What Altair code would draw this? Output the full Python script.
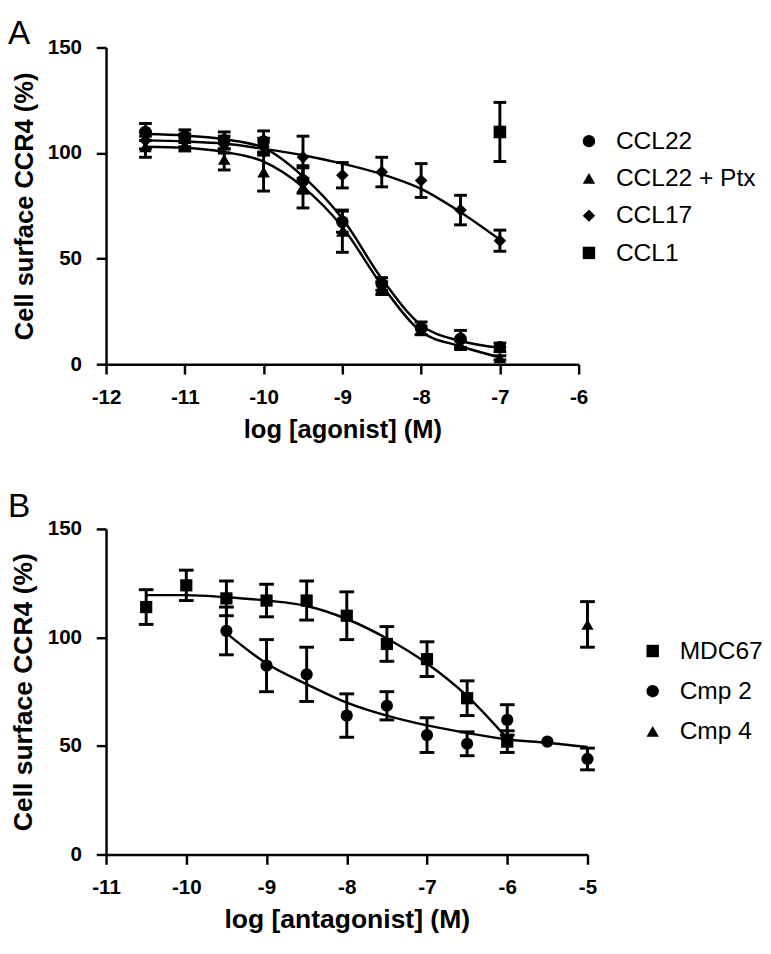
import altair as alt
import pandas as pd

FONT = "Liberation Sans"

# ---------------- Panel A data ----------------
a_x = [-11.5, -11, -10.5, -10, -9.5, -9, -8.5, -8, -7.5, -7]
ccl22_y = [110, 108, 106, 105.5, 87, 67.5, 38, 17, 12, 8]
ccl22_err = [4, 3, 4, 5, 6, 5, 3, 3, 4, 2]
ptx_y = [103, 104, 97, 91, 84, 63, 36, 16, 9, 3]
ptx_err = [5, 3, 5, 9, 10, 10, 3, 2, 2, 1]
ccl17_y = [106, 106, 104, 103, 98, 89.5, 91, 87, 73, 58.5]
ccl17_err = [4, 3, 4, 4, 10, 6, 7, 8, 7, 5]
ccl1_x = [-7]
ccl1_y = [110]
ccl1_err = [14]
# fitted curves
ccl22_fit = [109, 108.3, 106.5, 102.5, 89, 69, 40.5, 18.5, 11, 7.8]
ptx_fit = [103, 102.5, 100.5, 96, 84, 65, 37.5, 15.5, 8.5, 3.2]
ccl17_fit = [106, 105.5, 104.5, 102, 99, 95, 90, 83, 72, 59]
a_names = ["CCL22", "CCL22 + Ptx", "CCL17", "CCL1"]
a_shapes = ["circle", "triangle-up", "diamond", "square"]
a_xticks = [-12, -11, -10, -9, -8, -7, -6]

# ---------------- Panel B data ----------------
mdc_x = [-10.5, -10, -9.5, -9, -8.5, -8, -7.5, -7, -6.5, -6]
mdc_y = [114, 124, 118, 117, 117, 110, 97, 90, 72, 52]
mdc_err = [8, 7, 8, 7.5, 9, 11, 8, 8, 8, 5]
mdc_fit = [119.5, 119.5, 118.5, 117, 114.5, 108.5, 99.5, 88, 73, 53.5]
cmp2_x = [-9.5, -9, -8.5, -8, -7.5, -7, -6.5, -6, -5.5, -5]
cmp2_y = [103, 87, 83, 64, 68.5, 55, 51, 62, 52, 44]
cmp2_err = [11, 12, 12.5, 10, 6.5, 8, 5.5, 7, 0, 5]
cmp2_fit = [102, 88, 78.5, 70, 64, 59.5, 56, 53, 51.5, 49.5]
cmp4_x = [-5]
cmp4_y = [106]
cmp4_err = [10.5]
b_names = ["MDC67", "Cmp 2", "Cmp 4"]
b_shapes = ["square", "circle", "triangle-up"]
b_xticks = [-11, -10, -9, -8, -7, -6, -5]

y_ticks = [0, 50, 100, 150]


def pts(xs, ys, errs, name):
    d = pd.DataFrame({"x": xs, "y": ys, "err": errs})
    d["s"] = name
    d["lo"] = d["y"] - d["err"]
    d["hi"] = d["y"] + d["err"]
    return d


def fit(xs, ys, name):
    d = pd.DataFrame({"x": xs, "y": ys})
    d["s"] = name
    return d


pts_a = pd.concat([
    pts(a_x, ccl22_y, ccl22_err, "CCL22"),
    pts(a_x, ptx_y, ptx_err, "CCL22 + Ptx"),
    pts(a_x, ccl17_y, ccl17_err, "CCL17"),
    pts(ccl1_x, ccl1_y, ccl1_err, "CCL1"),
], ignore_index=True)
fit_a = pd.concat([
    fit(a_x, ccl22_fit, "CCL22"),
    fit(a_x, ptx_fit, "CCL22 + Ptx"),
    fit(a_x, ccl17_fit, "CCL17"),
], ignore_index=True)

pts_b = pd.concat([
    pts(mdc_x, mdc_y, mdc_err, "MDC67"),
    pts(cmp2_x, cmp2_y, cmp2_err, "Cmp 2"),
    pts(cmp4_x, cmp4_y, cmp4_err, "Cmp 4"),
], ignore_index=True)
fit_b = pd.concat([
    fit(mdc_x, mdc_fit, "MDC67"),
    fit(cmp2_x, cmp2_fit, "Cmp 2"),
], ignore_index=True)


def panel(points, fits, names, shapes, xticks, xtitle, letter, letter_y, w, h,
          title_size, leg_x, leg_y, leg_font, leg_pad, leg_off, cap, msize):
    xdom = [xticks[0], xticks[-1]]
    xaxis = alt.Axis(values=xticks, title=xtitle, labelExpr="'' + datum.value",
                     labelFlush=False, labelPadding=13, titlePadding=10,
                     titleFontSize=title_size)
    yaxis = alt.Axis(values=y_ticks, title="Cell surface CCR4 (%)",
                     labelPadding=15, titlePadding=10, titleFontSize=title_size)
    xs = alt.Scale(domain=xdom, nice=False, zero=False)
    ys = alt.Scale(domain=[0, 150], nice=False)
    X = alt.X("x:Q", scale=xs, axis=xaxis)
    Y = alt.Y("y:Q", scale=ys, axis=yaxis)
    Ylo = alt.Y("lo:Q", scale=ys, axis=yaxis)
    eb = points[points["err"] > 0]
    rules = alt.Chart(eb).mark_rule(color="black", strokeWidth=3, opacity=1).encode(
        x=X, y=Ylo, y2="hi:Q")
    caps = alt.Chart(eb).transform_fold(["lo", "hi"], as_=["k", "y"]).mark_tick(
        orient="horizontal", color="black", size=cap, thickness=3,
        opacity=1).encode(x=X, y=Y)
    lines = alt.Chart(fits).mark_line(color="black", strokeWidth=2.5,
                                      interpolate="monotone").encode(
        x=X, y=Y, detail="s:N")
    marks = alt.Chart(points).mark_point(filled=True, color="black", opacity=1,
                                         size=msize).encode(
        x=X, y=Y,
        shape=alt.Shape("s:N", scale=alt.Scale(domain=names, range=shapes),
                        sort=names,
                        legend=alt.Legend(title=None, orient="none", legendX=leg_x,
                                          legendY=leg_y, labelFont=FONT,
                                          labelFontSize=leg_font, labelColor="black",
                                          symbolSize=160, symbolFillColor="black",
                                          symbolOpacity=1,
                                          symbolStrokeWidth=0, rowPadding=leg_pad,
                                          labelOffset=leg_off, padding=0)))
    lab = alt.Chart(pd.DataFrame({"t": [letter]})).mark_text(
        align="left", baseline="alphabetic", fontSize=34, font=FONT,
        color="black").encode(x=alt.value(-100), y=alt.value(letter_y), text="t:N")
    return alt.layer(rules, caps, lines, marks, lab).properties(width=w, height=h)


chart_a = panel(pts_a, fit_a, a_names, a_shapes, a_xticks, "log [agonist] (M)",
                "A", -4, 482, 323, 26, 480, 83, 25, 12, 15, 13, 165)
chart_b = panel(pts_b, fit_b, b_names, b_shapes, b_xticks, "log [antagonist] (M)",
                "B", -12, 491, 332, 27, 545, 112, 25, 15, 15, 15, 155)

chart = alt.vconcat(chart_a, chart_b, spacing=49).resolve_scale(
    x="independent", y="independent", shape="independent"
).properties(padding=0).configure_view(stroke=None).configure_axis(
    grid=False, domainColor="black", domainWidth=2.5, tickColor="black",
    tickWidth=2.5, tickSize=10, labelFont=FONT, labelFontSize=21,
    labelFontWeight="bold", labelColor="black", titleFont=FONT,
    titleFontWeight="bold", titleColor="black")

chart.save("out.html", embed_options={"renderer": "svg", "actions": False})
